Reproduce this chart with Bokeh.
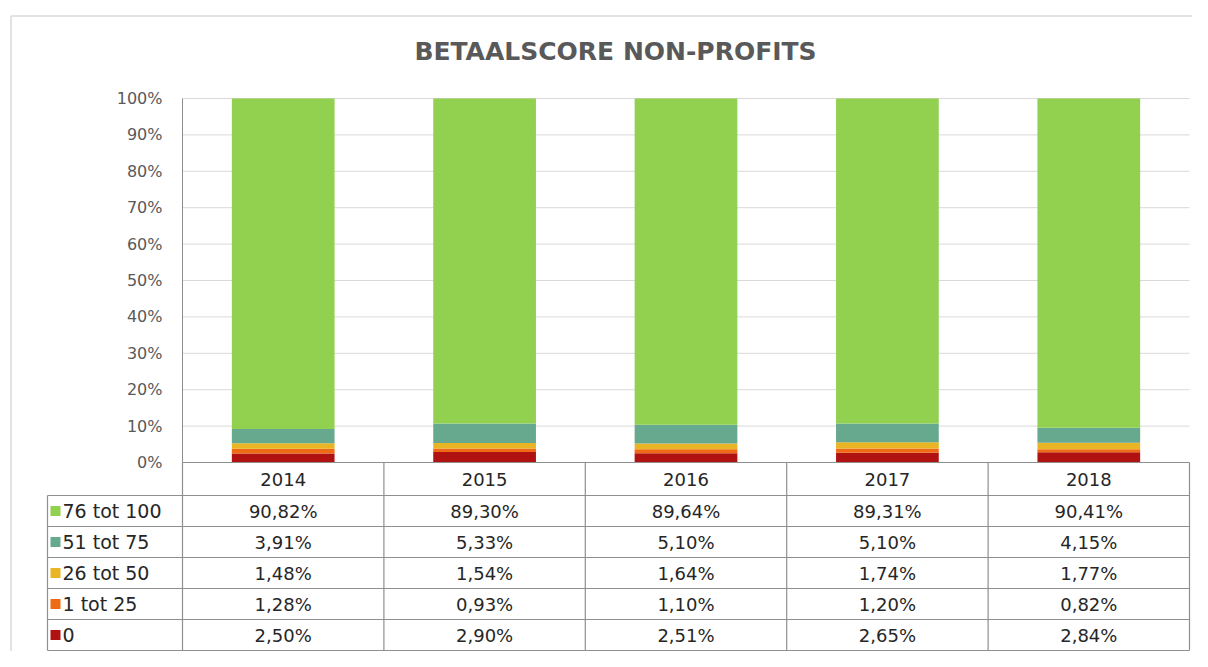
from bokeh.plotting import figure
from bokeh.models import Range1d, LinearAxis, FixedTicker, NumeralTickFormatter, ColumnDataSource, Label
from bokeh.embed import file_html
from bokeh.resources import INLINE
from bokeh.core.properties import value

# ---------------- data ----------------
years = ["2014", "2015", "2016", "2017", "2018"]
categories = ["0", "1 tot 25", "26 tot 50", "51 tot 75", "76 tot 100"]  # bottom -> top
score_0 = [2.50, 2.90, 2.51, 2.65, 2.84]
score_1_25 = [1.28, 0.93, 1.10, 1.20, 0.82]
score_26_50 = [1.48, 1.54, 1.64, 1.74, 1.77]
score_51_75 = [3.91, 5.33, 5.10, 5.10, 4.15]
score_76_100 = [90.82, 89.30, 89.64, 89.31, 90.41]
y_ticks = [0, 10, 20, 30, 40, 50, 60, 70, 80, 90, 100]
title_text = "BETAALSCORE NON-PROFITS"

series = [score_0, score_1_25, score_26_50, score_51_75, score_76_100]
colors = ["#B01212", "#EE6A14", "#E9B524", "#66A98F", "#92D050"]

# ---------------- layout (canvas pixels) ----------------
W, H = 1192, 651
LEG_L = 47          # left edge of legend column
COL_L = 182         # left edge of first year column (value axis)
COL_R = 1189        # right edge of table / plot
Y0_PX = 462         # 0 %
Y100_PX = 98        # 100 %
HEAD_H = 33
ROW_H = 31
COL_W = (COL_R - COL_L) / len(years)
PX_Y = float(Y0_PX - Y100_PX)


def dx(px):
    return (px - COL_L) / COL_W - 0.5


def dy(py):
    return (Y0_PX - py) / PX_Y


p = figure(width=W, height=H, output_backend="svg", toolbar_location=None,
           x_range=Range1d(dx(0), dx(W)), y_range=Range1d(dy(H), dy(0)),
           x_axis_location=None, y_axis_location=None,
           min_border_left=0, min_border_right=0, min_border_top=0, min_border_bottom=0)
p.grid.visible = False
p.outline_line_color = None
p.background_fill_color = "white"
p.border_fill_color = "white"

# chart-area border (partially visible in the reference crop)
p.segment(x0=[dx(10.5), dx(10.5)], y0=[dy(15.5), dy(15.5)],
          x1=[dx(W), dx(10.5)], y1=[dy(15.5), dy(H)],
          line_color="#d9d9d9", line_width=1.5)

# title
p.add_layout(Label(x=dx(615), y=dy(51), text=title_text, text_align="center",
                   text_baseline="middle", text_font="DejaVu Sans", text_font_size="25px",
                   text_font_style="bold", text_color="#595959"))

x_end = len(years) - 0.5

# gridlines
gy = [t / 100 for t in y_ticks if t > 0]
p.segment(x0=[-0.5] * len(gy), x1=[x_end] * len(gy), y0=gy, y1=gy,
          line_color="#d9d9d9", line_width=1)

# stacked 100% bars
xs = list(range(len(years)))
totals = [sum(s[i] for s in series) for i in xs]
data = {"x": xs}
for cat, s in zip(categories, series):
    data[cat] = [v / t for v, t in zip(s, totals)]
src = ColumnDataSource(data)
p.vbar_stack(categories, x="x", width=0.51, color=colors, line_color=None, source=src)

# value axis at the left edge of the year columns
ax = LinearAxis(fixed_location=-0.5, bounds=(0, 1),
                ticker=FixedTicker(ticks=[t / 100 for t in y_ticks]),
                formatter=NumeralTickFormatter(format="0%"))
ax.major_tick_line_color = None
ax.minor_tick_line_color = None
ax.axis_line_color = "#8c8c8c"
ax.major_label_text_font = "DejaVu Sans"
ax.major_label_text_font_size = "16px"
ax.major_label_text_color = "#595959"
ax.major_label_standoff = 14
p.add_layout(ax, "left")

# ---------------- data table ----------------
x_leg = dx(LEG_L)
head_bot = dy(Y0_PX + HEAD_H)
rows = list(reversed(list(zip(categories, series, colors))))  # top row = 76 tot 100
row_tops = [dy(Y0_PX + HEAD_H + i * ROW_H) for i in range(len(rows))]
row_mid = [dy(Y0_PX + HEAD_H + i * ROW_H + ROW_H / 2) for i in range(len(rows))]
table_bot = dy(Y0_PX + HEAD_H + len(rows) * ROW_H)

line_col = "#8f8f8f"
hx0, hx1, hy = [-0.5], [x_end], [0.0]
for t in row_tops:
    hx0.append(x_leg); hx1.append(x_end); hy.append(t)
hx0.append(x_leg); hx1.append(x_end); hy.append(table_bot)
p.segment(x0=hx0, x1=hx1, y0=hy, y1=hy, line_color=line_col, line_width=1.2)

vx, vy0, vy1 = [x_leg], [head_bot], [table_bot]
for i in range(len(years) + 1):
    vx.append(i - 0.5); vy0.append(0.0); vy1.append(table_bot)
p.segment(x0=vx, x1=vx, y0=vy0, y1=vy1, line_color=line_col, line_width=1.2)

# header years
p.text(x=xs, y=[head_bot / 2] * len(xs), text=years, text_align="center",
       text_baseline="middle", text_font=value("DejaVu Sans"),
       text_font_size="18px", text_color="#262626")

# cell values
cx, cy, ct = [], [], []
for (cat, s, c), ym in zip(rows, row_mid):
    for i, v in enumerate(s):
        cx.append(i); cy.append(ym)
        ct.append(f"{v:.2f}".replace(".", ",") + "%")
p.text(x=cx, y=cy, text=ct, text_align="center", text_baseline="middle",
       text_font=value("DejaVu Sans"), text_font_size="18px", text_color="#262626")

# legend keys in first column
p.scatter(x=[dx(LEG_L + 8)] * len(rows), y=row_mid, marker="square", size=10,
          color=[r[2] for r in rows], line_color=None)
p.text(x=[dx(LEG_L + 15)] * len(rows), y=row_mid, text=[r[0] for r in rows],
       text_align="left", text_baseline="middle", text_font=value("DejaVu Sans"),
       text_font_size="19px", text_color="#262626")

open("out.html", "w").write(file_html(p, INLINE))
